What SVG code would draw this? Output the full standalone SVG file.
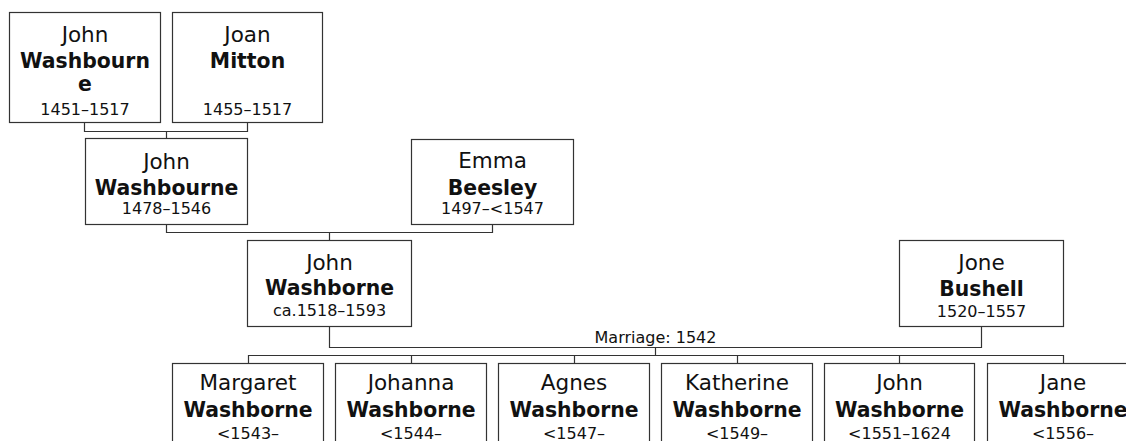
<svg xmlns="http://www.w3.org/2000/svg" width="1126" height="441" viewBox="0 0 1126 441">
<style>
rect.box{fill:#fff;stroke:#333;stroke-width:1.2}
text{font-family:"DejaVu Sans",Verdana,sans-serif;fill:#111;text-anchor:middle}
.nm{font-size:21.5px}
.sn{font-size:20.4px;font-weight:bold}
.dt{font-size:16px}
.lbl{font-size:16px}
#connectors path{fill:none;stroke:#333;stroke-width:1.2}
</style>
<rect width="1126" height="441" fill="#fff"/>
<g id="connectors">
<path d="M84.5 122V131.5H247.5V122M166.5 131.5V138"/>
<path d="M166.5 224V232.5H492.5V224M329.5 232.5V240"/>
<path d="M329.5 326V347.5H981.5V326M655.5 347.5V355.5"/>
<path d="M248.5 363V355.5H1063.5V363M411.5 355.5V363M574.5 355.5V363M737.5 355.5V363M899.5 355.5V363"/>
</g>
<g id="n1"><rect class="box" x="9.5" y="12.5" width="151" height="110"/>
<text class="nm" x="85" y="42">John</text><text class="sn" x="85" y="68">Washbourn</text><text class="sn" x="85" y="91">e</text><text class="dt" x="85" y="115">1451–1517</text></g>
<g id="n2"><rect class="box" x="172.5" y="12.5" width="150" height="110"/>
<text class="nm" x="247.5" y="42">Joan</text><text class="sn" x="247.5" y="68">Mitton</text><text class="dt" x="247.5" y="115">1455–1517</text></g>
<g id="n3"><rect class="box" x="85.5" y="138.5" width="162" height="86"/>
<text class="nm" x="166.5" y="169">John</text><text class="sn" x="166.5" y="195">Washbourne</text><text class="dt" x="166.5" y="214">1478–1546</text></g>
<g id="n4"><rect class="box" x="411.5" y="139.5" width="162" height="85"/>
<text class="nm" x="492.5" y="168">Emma</text><text class="sn" x="492.5" y="195">Beesley</text><text class="dt" x="492.5" y="214">1497–&lt;1547</text></g>
<g id="n5"><rect class="box" x="247.5" y="240.5" width="164" height="86"/>
<text class="nm" x="329.5" y="270">John</text><text class="sn" x="329.5" y="295">Washborne</text><text class="dt" x="329.5" y="316">ca.1518–1593</text></g>
<g id="n6"><rect class="box" x="899.5" y="240.5" width="164" height="86"/>
<text class="nm" x="981.5" y="270">Jone</text><text class="sn" x="981.5" y="296">Bushell</text><text class="dt" x="981.5" y="317">1520–1557</text></g>
<text class="lbl" x="655.5" y="343">Marriage: 1542</text>
<g id="c1"><rect class="box" x="172.5" y="363.5" width="151" height="100"/>
<text class="nm" x="248" y="390">Margaret</text><text class="sn" x="248" y="417">Washborne</text><text class="dt" x="248" y="439">&lt;1543–</text></g>
<g id="c2"><rect class="box" x="335.5" y="363.5" width="151" height="100"/>
<text class="nm" x="411" y="390">Johanna</text><text class="sn" x="411" y="417">Washborne</text><text class="dt" x="411" y="439">&lt;1544–</text></g>
<g id="c3"><rect class="box" x="498.5" y="363.5" width="151" height="100"/>
<text class="nm" x="574" y="390">Agnes</text><text class="sn" x="574" y="417">Washborne</text><text class="dt" x="574" y="439">&lt;1547–</text></g>
<g id="c4"><rect class="box" x="661.5" y="363.5" width="151" height="100"/>
<text class="nm" x="737" y="390">Katherine</text><text class="sn" x="737" y="417">Washborne</text><text class="dt" x="737" y="439">&lt;1549–</text></g>
<g id="c5"><rect class="box" x="824.5" y="363.5" width="150" height="100"/>
<text class="nm" x="899.5" y="390">John</text><text class="sn" x="899.5" y="417">Washborne</text><text class="dt" x="899.5" y="439">&lt;1551–1624</text></g>
<g id="c6"><rect class="box" x="987.5" y="363.5" width="151" height="100"/>
<text class="nm" x="1063" y="390">Jane</text><text class="sn" x="1063" y="417">Washborne</text><text class="dt" x="1063" y="439">&lt;1556–</text></g>
</svg>
